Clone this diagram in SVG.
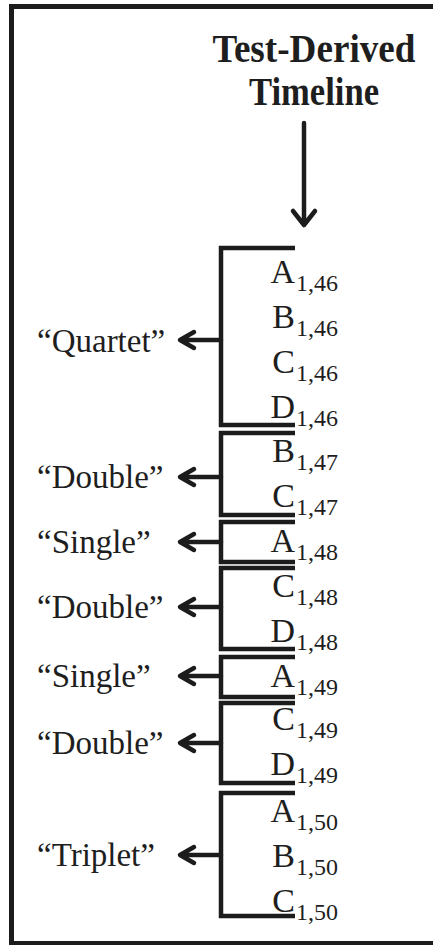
<svg xmlns="http://www.w3.org/2000/svg" width="433" height="945" viewBox="0 0 433 945">
<style>
.frame{fill:none;stroke:#1c1c1c;stroke-width:5}
.br{fill:none;stroke:#1c1c1c;stroke-width:4.5;stroke-linejoin:miter}
.ar{fill:none;stroke:#1c1c1c;stroke-width:4.5;stroke-linecap:round;stroke-linejoin:round}
.title{font-family:"Liberation Serif","Times New Roman",serif;font-weight:bold;font-size:40px;fill:#1e1e1e;text-anchor:middle}
.lbl{font-family:"Liberation Serif","Times New Roman",serif;font-size:33px;fill:#1e1e1e}
.let{font-family:"Liberation Serif","Times New Roman",serif;font-size:34px;fill:#1e1e1e;text-anchor:end}
.sub{font-family:"Liberation Serif","Times New Roman",serif;font-size:24px;fill:#1e1e1e}
</style>
<path class="frame" d="M433,6.5 H11.5 V943.5 H433"/>
<g id="title">
<text class="title" x="314" y="62" textLength="203" lengthAdjust="spacingAndGlyphs">Test-Derived</text>
<text class="title" x="314" y="105" textLength="130" lengthAdjust="spacingAndGlyphs">Timeline</text>
</g>
<g id="connectors">
<path class="ar" d="M304,123 V225 M293,211 L304,225 L315,211"/>
<path class="ar" d="M221,340 H181 M194,332 L180,340 L194,348"/>
<path class="ar" d="M221,477 H181 M194,469 L180,477 L194,485"/>
<path class="ar" d="M221,542 H181 M194,534 L180,542 L194,550"/>
<path class="ar" d="M221,607 H181 M194,599 L180,607 L194,615"/>
<path class="ar" d="M221,676 H181 M194,668 L180,676 L194,684"/>
<path class="ar" d="M221,743 H181 M194,735 L180,743 L194,751"/>
<path class="ar" d="M221,855 H181 M194,847 L180,855 L194,863"/>
</g>
<g id="group-quartet">
<path class="br" d="M295,248 H221 V425 H295"/>
<text class="lbl" x="37" y="352">“Quartet”</text>
<text class="let" x="295" y="283">A</text><text class="sub" x="296" y="291">1,46</text>
<text class="let" x="295" y="328">B</text><text class="sub" x="296" y="336">1,46</text>
<text class="let" x="295" y="373">C</text><text class="sub" x="296" y="381">1,46</text>
<text class="let" x="295" y="418">D</text><text class="sub" x="296" y="426">1,46</text>
</g>
<g id="group-double-47">
<path class="br" d="M295,433 H221 V515 H295"/>
<text class="lbl" x="37" y="488">“Double”</text>
<text class="let" x="295" y="462">B</text><text class="sub" x="296" y="470">1,47</text>
<text class="let" x="295" y="507">C</text><text class="sub" x="296" y="515">1,47</text>
</g>
<g id="group-single-48">
<path class="br" d="M295,522 H221 V562 H295"/>
<text class="lbl" x="37" y="553">“Single”</text>
<text class="let" x="295" y="552">A</text><text class="sub" x="296" y="560">1,48</text>
</g>
<g id="group-double-48">
<path class="br" d="M295,568 H221 V649 H295"/>
<text class="lbl" x="37" y="618">“Double”</text>
<text class="let" x="295" y="597">C</text><text class="sub" x="296" y="605">1,48</text>
<text class="let" x="295" y="642">D</text><text class="sub" x="296" y="650">1,48</text>
</g>
<g id="group-single-49">
<path class="br" d="M295,657 H221 V697 H295"/>
<text class="lbl" x="37" y="687">“Single”</text>
<text class="let" x="295" y="687">A</text><text class="sub" x="296" y="695">1,49</text>
</g>
<g id="group-double-49">
<path class="br" d="M295,703 H221 V783 H295"/>
<text class="lbl" x="37" y="754">“Double”</text>
<text class="let" x="295" y="730">C</text><text class="sub" x="296" y="738">1,49</text>
<text class="let" x="295" y="775">D</text><text class="sub" x="296" y="783">1,49</text>
</g>
<g id="group-triplet-50">
<path class="br" d="M295,793 H221 V916 H295"/>
<text class="lbl" x="37" y="866">“Triplet”</text>
<text class="let" x="295" y="822">A</text><text class="sub" x="296" y="830">1,50</text>
<text class="let" x="295" y="867">B</text><text class="sub" x="296" y="875">1,50</text>
<text class="let" x="295" y="912">C</text><text class="sub" x="296" y="920">1,50</text>
</g>
</svg>
